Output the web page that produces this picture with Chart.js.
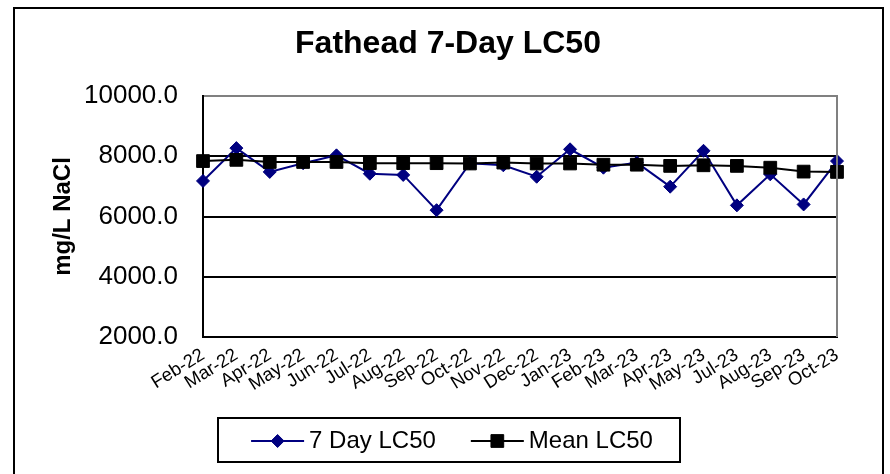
<!DOCTYPE html>
<html>
<head>
<meta charset="utf-8">
<script src="https://cdn.jsdelivr.net/npm/chart.js@4/dist/chart.umd.min.js"></script>
<style>
  html, body { margin: 0; padding: 0; background: #ffffff; }
  #wrap { width: 890px; height: 474px; position: relative; }
</style>
</head>
<body>
<div id="wrap"><canvas id="c" width="890" height="474"></canvas></div>
<script>
// Monthly test dates
const months = ['Feb-22','Mar-22','Apr-22','May-22','Jun-22','Jul-22','Aug-22','Sep-22','Oct-22','Nov-22',
                'Dec-22','Jan-23','Feb-23','Mar-23','Apr-23','May-23','Jul-23','Aug-23','Sep-23','Oct-23'];
// 7-day LC50 result for each test (mg/L NaCl)
const lc50Values = [7180, 8270, 7480, 7770, 8030, 7420, 7380, 6210, 7770, 7700,
                    7320, 8230, 7620, 7790, 6990, 8180, 6370, 7400, 6400, 7840];
// Running mean LC50 (mg/L NaCl)
const meanValues = [7840, 7880, 7810, 7810, 7810, 7770, 7770, 7770, 7760, 7790,
                    7760, 7760, 7720, 7720, 7680, 7700, 7680, 7620, 7490, 7480];
// Value axis ticks
const yTicks = [2000, 4000, 6000, 8000, 10000];
const chartTitle = 'Fathead 7-Day LC50';

const FONT = "'Liberation Sans', Arial, Helvetica, sans-serif";
const NAVY = '#000080';
const BLACK = '#000000';
const GRAY = '#808080';

// Title, frame around the whole figure, right edge of the plot area, and a boxed legend
const framePlugin = {
  id: 'frame',
  beforeDraw(chart) {
    const ctx = chart.ctx;
    ctx.save();
    ctx.fillStyle = '#ffffff';
    ctx.fillRect(0, 0, chart.width, chart.height);
    ctx.restore();
  },
  afterDraw(chart) {
    const ctx = chart.ctx;
    const a = chart.chartArea;
    ctx.save();
    // title
    ctx.fillStyle = BLACK;
    ctx.font = 'bold 32px ' + FONT;
    ctx.textAlign = 'center';
    ctx.textBaseline = 'middle';
    ctx.fillText(chartTitle, 448, 44);

    // plot area right border
    ctx.strokeStyle = GRAY;
    ctx.lineWidth = 2;
    ctx.beginPath();
    ctx.moveTo(a.right, a.top - 1);
    ctx.lineTo(a.right, a.bottom);
    ctx.stroke();
    // outer frame
    ctx.strokeStyle = BLACK;
    ctx.lineWidth = 2;
    ctx.strokeRect(14, 8, 869, 490);

    // legend
    const ds = chart.data.datasets;
    ctx.font = '24px ' + FONT;
    ctx.textBaseline = 'middle';
    ctx.textAlign = 'left';
    const lineLen = 53, gapText = 5, gapItem = 35;
    const widths = ds.map(d => lineLen + gapText + ctx.measureText(d.label).width);
    const total = widths.reduce((s, w) => s + w, 0) + gapItem * (ds.length - 1);
    const boxL = 218, boxR = 680, boxT = 418, boxB = 462;
    const cy = (boxT + boxB) / 2 + 1;
    let x = (boxL + boxR) / 2 - total / 2 + 3;
    ctx.lineWidth = 2;
    ctx.strokeStyle = BLACK;
    ctx.strokeRect(boxL, boxT, boxR - boxL, boxB - boxT);
    ds.forEach((d, i) => {
      ctx.strokeStyle = d.borderColor;
      ctx.lineWidth = d.borderWidth;
      ctx.beginPath();
      ctx.moveTo(x, cy);
      ctx.lineTo(x + lineLen, cy);
      ctx.stroke();
      ctx.fillStyle = d.pointBackgroundColor;
      ctx.strokeStyle = d.pointBorderColor;
      ctx.lineWidth = 1;
      Chart.helpers.drawPoint(ctx, { pointStyle: d.pointStyle, radius: d.pointRadius, rotation: 0, borderWidth: 1 },
                              x + lineLen / 2, cy);
      ctx.fillStyle = BLACK;
      ctx.fillText(d.label, x + lineLen + gapText, cy);
      x += widths[i] + gapItem;
    });
    ctx.restore();
  }
};

new Chart(document.getElementById('c'), {
  type: 'line',
  data: {
    labels: months,
    datasets: [
      {
        label: '7 Day LC50',
        data: lc50Values,
        borderColor: NAVY,
        backgroundColor: NAVY,
        borderWidth: 2,
        pointStyle: 'rectRot',
        pointRadius: 6.5,
        pointBackgroundColor: NAVY,
        pointBorderColor: NAVY,
        pointBorderWidth: 1,
        tension: 0,
        clip: false,
        order: 2
      },
      {
        label: 'Mean LC50',
        data: meanValues,
        borderColor: BLACK,
        backgroundColor: BLACK,
        borderWidth: 2,
        pointStyle: 'rect',
        pointRadius: 9,
        pointBackgroundColor: BLACK,
        pointBorderColor: BLACK,
        pointBorderWidth: 1,
        tension: 0,
        clip: false,
        order: 1
      }
    ]
  },
  options: {
    responsive: false,
    animation: false,
    devicePixelRatio: 1,
    layout: { padding: { left: 14, right: 53, top: 96, bottom: 0 } },
    plugins: {
      legend: { display: false },
      tooltip: { enabled: false },
      title: { display: false }
    },
    scales: {
      x: {
        type: 'category',
        offset: false,
        grid: { display: false, drawTicks: false },
        border: { display: true, color: BLACK, width: 2 },
        ticks: {
          autoSkip: false,
          minRotation: 32,
          maxRotation: 32,
          padding: 7,
          color: BLACK,
          font: { family: FONT, size: 18.5 }
        },
        afterFit(scale) { scale.height = 137; }
      },
      y: {
        min: 2000,
        max: 10000,
        afterBuildTicks(scale) { scale.ticks = yTicks.map(v => ({ value: v })); },
        grid: {
          drawTicks: false,
          lineWidth: 2,
          color: ctx => (ctx.tick && ctx.tick.value === 10000 ? GRAY : BLACK)
        },
        border: { display: true, color: BLACK, width: 2 },
        ticks: {
          padding: 25,
          color: BLACK,
          font: { family: FONT, size: 26 },
          callback: v => Number(v).toFixed(1)
        },
        title: {
          display: true,
          text: 'mg/L NaCl',
          color: BLACK,
          font: { family: FONT, size: 24, weight: 'bold' },
          padding: { top: 35, bottom: 0 }
        },
        afterFit(scale) { scale.width = 189; }
      }
    }
  },
  plugins: [framePlugin]
});
</script>
</body>
</html>
